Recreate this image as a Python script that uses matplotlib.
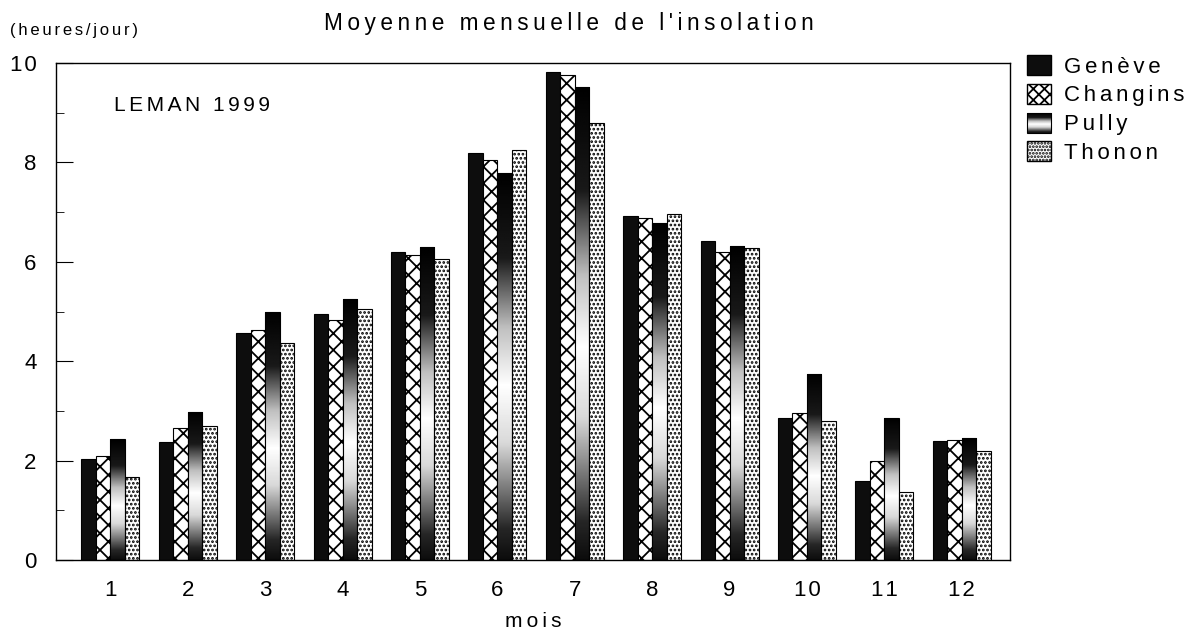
import numpy as np
import matplotlib.pyplot as plt
from matplotlib.patches import Patch, Rectangle
from matplotlib.legend_handler import HandlerBase
from matplotlib.image import BboxImage
from matplotlib.transforms import Bbox, TransformedBbox
from matplotlib.colors import Normalize

plt.rcParams['font.family'] = ['Liberation Sans', 'DejaVu Sans']
plt.rcParams['hatch.linewidth'] = 1.3

# Data
mois = list(range(1, 13))
geneve = [2.03, 2.37, 4.57, 4.95, 6.20, 8.19, 9.82, 6.92, 6.42, 2.86, 1.59, 2.39]
changins = [2.09, 2.65, 4.62, 4.83, 6.14, 8.05, 9.76, 6.88, 6.20, 2.96, 2.00, 2.41]
pully = [2.43, 2.98, 5.00, 5.25, 6.30, 7.79, 9.52, 6.78, 6.32, 3.74, 2.86, 2.45]
thonon = [1.68, 2.70, 4.37, 5.05, 6.05, 8.25, 8.80, 6.97, 6.28, 2.80, 1.37, 2.20]
stations = ['Genève', 'Changins', 'Pully', 'Thonon']

THIN = '\u2009'
HAIR = '\u200a'


def spaced(s, sep=HAIR):
    # wide letter spacing like the original
    return sep.join(s)


fig = plt.figure(figsize=(11.95, 6.41), dpi=100)
ax = fig.add_axes([0.047, 0.126, 0.798, 0.776])

x = np.array(mois, dtype=float)
w = 0.1875
offsets = [-1.5 * w, -0.5 * w, 0.5 * w, 1.5 * w]

# vertical shading used for Pully (dark top & bottom, light middle)
t = np.linspace(0, 1, 200)
shade = np.interp(t, [0, 0.08, 0.3, 0.45, 0.6, 0.78, 1.0],
                  [0.05, 0.15, 0.85, 1.0, 0.75, 0.1, 0.0])
grad = shade[:, None]

ax.bar(x + offsets[0], geneve, w, color='#0d0d0d', edgecolor='black', lw=0.8, zorder=2)
ax.bar(x + offsets[1], changins, w, color='white', edgecolor='black', hatch='xx', lw=0.8, zorder=2)
pbars = ax.bar(x + offsets[2], pully, w, color='none', edgecolor='black', lw=0.8, zorder=3)
for b in pbars:
    x0, y0 = b.get_x(), b.get_y()
    im = ax.imshow(grad, cmap='gray', vmin=0, vmax=1, origin='lower', aspect='auto',
                   extent=[x0, x0 + b.get_width(), y0, y0 + b.get_height()], zorder=2,
                   interpolation='bilinear')
    im.set_clip_path(b)
ax.bar(x + offsets[3], thonon, w, color='white', edgecolor='black', hatch='....', lw=0.8, zorder=2)

ax.set_xlim(0.3, 12.62)
ax.set_ylim(0, 10)
ax.set_aspect('auto')
ax.set_xticks(mois)
ax.set_xticklabels([spaced(str(m)) for m in mois], fontsize=16)
ax.tick_params(axis='x', length=0, pad=14)
ax.set_yticks([0, 2, 4, 6, 8, 10])
ax.set_yticklabels([spaced(str(v)) for v in [0, 2, 4, 6, 8, 10]])
ax.set_yticks([1, 3, 5, 7, 9], minor=True)
ax.tick_params(axis='y', which='major', direction='in', length=12, labelsize=16, pad=14)
ax.tick_params(axis='y', which='minor', direction='in', length=6)
for s in ax.spines.values():
    s.set_linewidth(1.0)

ax.set_xlabel(spaced('mois', THIN), fontsize=15, labelpad=8)
fig.text(0.476, 0.964, spaced("Moyenne mensuelle de l'insolation", THIN),
         ha='center', va='center', fontsize=16.3)
fig.text(0.008, 0.953, spaced('(heures/jour)', HAIR * 2), ha='left', va='center', fontsize=12)
ax.text(0.061, 0.915, spaced('LEMAN 1999', HAIR * 2), transform=ax.transAxes, fontsize=15,
        ha='left', va='center')


class GradHandler(HandlerBase):
    def create_artists(self, legend, orig_handle, xdescent, ydescent, width, height,
                       fontsize, trans):
        bb = TransformedBbox(Bbox.from_bounds(-xdescent, -ydescent, width, height), trans)
        img = BboxImage(bb, cmap='gray', norm=Normalize(0, 1), interpolation='bilinear',
                        origin='lower')
        img.set_data(grad)
        rect = Rectangle((-xdescent, -ydescent), width, height, facecolor='none',
                         edgecolor='black', lw=0.8, transform=trans)
        return [img, rect]


handles = [
    Patch(facecolor='#0d0d0d', edgecolor='black'),
    Patch(facecolor='white', edgecolor='black', hatch='xxx'),
    Patch(facecolor='#9a9a9a', edgecolor='black'),
    Patch(facecolor='white', edgecolor='black', hatch='.....'),
]
labels = [spaced(s, HAIR * 2) for s in stations]
fig.legend(handles, labels, loc='upper left', bbox_to_anchor=(0.859, 0.914), frameon=False,
           fontsize=16, handlelength=1.1, handleheight=1.0, handletextpad=0.6,
           labelspacing=0.28, borderpad=0, borderaxespad=0,
           handler_map={handles[2]: GradHandler()})

fig.savefig('out.png', dpi=100)
